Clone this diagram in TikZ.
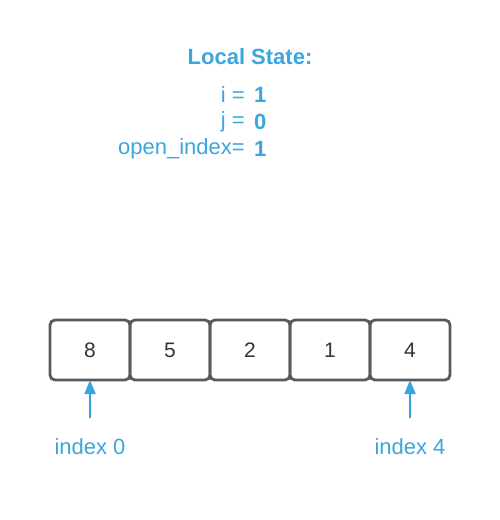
\documentclass[tikz,border=0pt]{standalone}
\usepackage{fontspec}
\setmainfont{Liberation Sans}
\usetikzlibrary{positioning,arrows.meta}

\definecolor{stateblue}{RGB}{59,166,222}
\definecolor{cellgrey}{RGB}{89,89,89}

\tikzset{
    cell/.style = {draw=cellgrey, line width=2.8pt, rounded corners=5pt, minimum width=80pt,
                   minimum height=60pt, inner sep=0pt, outer sep=0pt, text=black!80,
                   font=\fontsize{21}{25}\selectfont},
    state/.style = {text=stateblue, inner sep=0pt, font=\fontsize{22}{26}\selectfont},
    statebf/.style = {state, font=\fontsize{22}{26}\selectfont\bfseries},
    ptr/.style = {draw=stateblue, line width=2pt, -{Triangle[width=11pt,length=14pt]}}
}

\begin{document}
\begin{tikzpicture}[x=1pt,y=-1pt]
\useasboundingbox (0,0) rectangle (500,520);

\node [statebf] (title) at (250,57) {Local State:};

\node [state, anchor=east] (iname) at (245,95) {i =};
\node [statebf, anchor=west] (ival) at (254,95) {1};
\node [state, anchor=east] (jname) at (245,122) {j =};
\node [statebf, anchor=west] (jval) at (254,122) {0};
\node [state, anchor=east] (oname) at (245,149) {open\_index=};
\node [statebf, anchor=west] (oval) at (254,149) {1};

\node [cell] (c0) at (90,350) {8};
\node [cell, right=0pt of c0] (c1) {5};
\node [cell, right=0pt of c1] (c2) {2};
\node [cell, right=0pt of c2] (c3) {1};
\node [cell, right=0pt of c3] (c4) {4};

\node [state] (lbl0) at (90,447) {index 0};
\node [state] (lbl4) at (410,447) {index 4};

\draw [ptr, shorten <=29pt] (lbl0.center) -- (c0.south);
\draw [ptr, shorten <=29pt] (lbl4.center) -- (c4.south);

\end{tikzpicture}
\end{document}
